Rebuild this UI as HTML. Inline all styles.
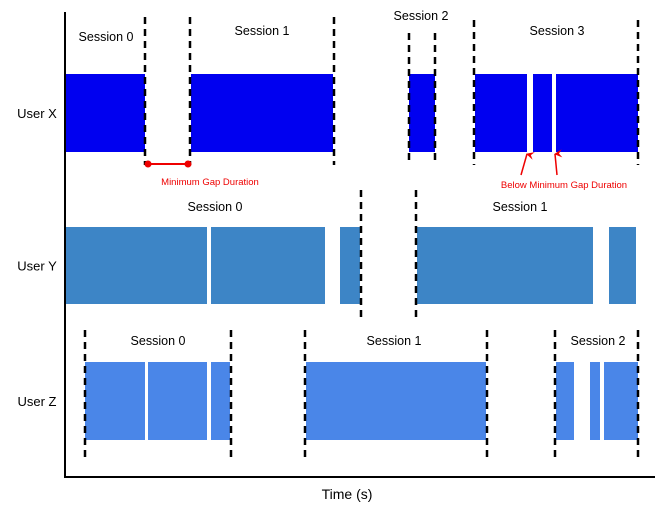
<!DOCTYPE html>
<html><head><meta charset="utf-8"><style>
body{margin:0;background:#fff}
svg{display:block;font-family:"Liberation Sans",Arial,sans-serif}
</style></head><body>
<svg id="c" width="662" height="521" viewBox="0 0 662 521">
<defs><marker id="ah" markerWidth="8" markerHeight="8" refX="4" refY="1" orient="auto-start-reverse" markerUnits="userSpaceOnUse"><path d="M0,8 L4,0 L8,8 L4,5 Z" fill="#e00"/></marker></defs>
<g id="marks"></g>
<line x1="65" y1="12" x2="65" y2="477" stroke="#000" stroke-width="2"/>
<line x1="64" y1="477" x2="655" y2="477" stroke="#000" stroke-width="2"/>
<text x="347" y="499" font-size="14" text-anchor="middle">Time (s)</text>
</svg>
<script>
const users = ["User X","User Y","User Z"];
const rowTop = [74,227,362];
const rowBottom = [152,304,440];
const rowColors = ["#0000f0","#3d85c6","#4a86e8"];
const segStart = [[0,126,344,410,468,491],[0,146,275,352,544],[20,83,146,241,491,525,539]];
const segEnd = [[80,268,370,462,487,573],[142,260,295,528,571],[80,142,165,421,509,535,573]];
const sessionBounds = [[80,125,269,344,370,409,573],[296,351],[20,166,240,422,490,573]];
const sessionLabels = [["Session 0","Session 1","Session 2","Session 3"],["Session 0","Session 1"],["Session 0","Session 1","Session 2"]];
const labelT = [[41,197,356,492],[150,455],[93,329,533]];
const labelY = [[41,35,20,35],[211,211],[345,345,345]];
const dashTop = [[17,17,17,33,33,20,20],[190,190],[330,330,330,330,330,330]];
const dashBottom = [[165,165,165,165,165,165,165],[320,320],[462,462,462,462,462,462]];
// time axis: t in [0,573] -> px
const t0=0,t1=573,px0=65,px1=638;
function x(t){return px0+(t-t0)/(t1-t0)*(px1-px0);}
const NS="http://www.w3.org/2000/svg";
const g=document.getElementById('marks');
function mk(tag,attrs,parent){const e=document.createElementNS(NS,tag);for(const k in attrs)e.setAttribute(k,attrs[k]);(parent||g).appendChild(e);return e;}
users.forEach((u,r)=>{
  const grp=mk('g',{});
  
  
  const lab=mk('text',{x:37,y:(rowTop[r]+rowBottom[r])/2+5,'font-size':13,'text-anchor':'middle'},grp);
  lab.textContent=u;
  
  
  segStart[r].forEach((s,i)=>{
    const b=mk('rect',{x:x(s),y:rowTop[r],width:x(segEnd[r][i])-x(s),height:rowBottom[r]-rowTop[r],fill:rowColors[r]},grp);
    
    
  });
  sessionBounds[r].forEach((t,i)=>{
    const l=mk('line',{x1:x(t),x2:x(t),y1:dashTop[r][i],y2:dashBottom[r][i],stroke:'#000','stroke-width':2.5,'stroke-dasharray':'7,5'},grp);
    
    
  });
  sessionLabels[r].forEach((s,i)=>{
    const t=mk('text',{x:x(labelT[r][i]),y:labelY[r][i],'font-size':12.5,'text-anchor':'middle'},grp);
    t.textContent=s;
    
    
  });
});
const ann=mk('g',{});


mk('line',{x1:x(83),x2:x(123),y1:164,y2:164,stroke:'#e00','stroke-width':2},ann);
mk('circle',{cx:x(83),cy:164,r:3.5,fill:'#e00'},ann);
mk('circle',{cx:x(123),cy:164,r:3.5,fill:'#e00'},ann);
const t1e=mk('text',{x:210,y:185,'font-size':9.5,fill:'#e00','text-anchor':'middle'},ann);
t1e.textContent='Minimum Gap Duration';


mk('line',{x1:521,y1:175,x2:x(462),y2:154,stroke:'#e00','stroke-width':1.5,'marker-end':'url(#ah)'},ann);
mk('line',{x1:557,y1:175,x2:x(490),y2:154,stroke:'#e00','stroke-width':1.5,'marker-end':'url(#ah)'},ann);
const t2e=mk('text',{x:564,y:188,'font-size':9.5,fill:'#e00','text-anchor':'middle'},ann);
t2e.textContent='Below Minimum Gap Duration';


</script>
</body></html>
